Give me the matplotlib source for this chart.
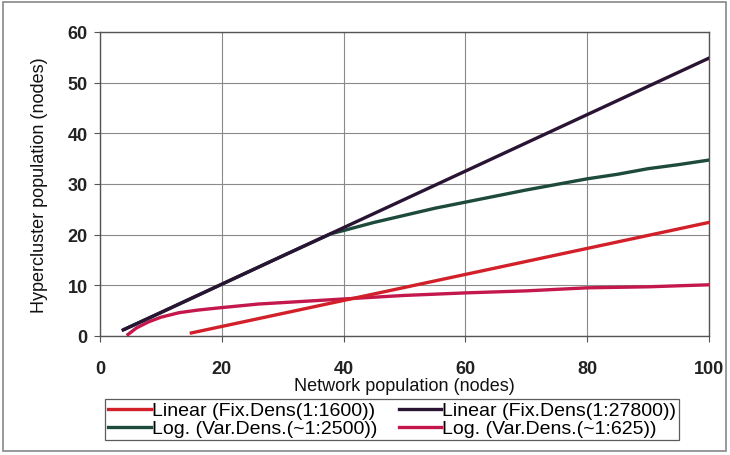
import matplotlib
matplotlib.use("Agg")
import matplotlib.pyplot as plt
from matplotlib.patches import Rectangle

plt.rcParams['font.family'] = ['Liberation Sans', 'DejaVu Sans']

# Linear (Fix.Dens(1:1600))
lin1600_x = [15, 100]
lin1600_y = [0.6, 22.4]

# Linear (Fix.Dens(1:27800))
lin27800_x = [3.8, 100]
lin27800_y = [1.2, 54.8]

# Log. (Var.Dens.(~1:2500)) - follows the 1:27800 line until ~38 nodes
log2500_x = [4, 10, 20, 30, 38, 40, 45, 50, 55, 60, 65, 70, 75, 80, 85, 90, 95, 100]
log2500_y = [1.3, 4.6, 10.2, 15.8, 20.2, 20.8, 22.4, 23.8, 25.2, 26.4, 27.6, 28.8, 29.9, 31.0, 31.9, 33.0, 33.8, 34.7]

# Log. (Var.Dens.(~1:625))
log625_x = [4.6, 6, 8, 10, 13, 16, 20, 26, 33, 40, 50, 60, 70, 80, 90, 100]
log625_y = [0.3, 1.6, 2.8, 3.7, 4.6, 5.1, 5.6, 6.3, 6.8, 7.3, 8.0, 8.5, 8.9, 9.5, 9.7, 10.1]

fig = plt.figure(figsize=(7.3, 4.56), dpi=100)
ax = fig.add_axes([0.137, 0.261, 0.834, 0.667])

lw = 2.4
l_log2500, = ax.plot(log2500_x, log2500_y, color='#1e4a3c', lw=lw, zorder=3,
                     label='Log. (Var.Dens.(~1:2500))')
l_lin27800, = ax.plot(lin27800_x, lin27800_y, color='#2a1434', lw=lw, zorder=4,
                      label='Linear (Fix.Dens(1:27800))')
l_log625, = ax.plot(log625_x, log625_y, color='#c4184c', lw=lw, zorder=3,
                    label='Log. (Var.Dens.(~1:625))')
l_lin1600, = ax.plot(lin1600_x, lin1600_y, color='#d2202a', lw=lw, zorder=4,
                     label='Linear (Fix.Dens(1:1600))')

ax.set_xlim(0, 100)
ax.set_ylim(0, 60)
ax.set_xticks([0, 20, 40, 60, 80, 100])
ax.set_yticks([0, 10, 20, 30, 40, 50, 60])
ax.grid(True, color='#8a8a8a', lw=0.8)
ax.set_axisbelow(True)
for s in ax.spines.values():
    s.set_color('#555555')
    s.set_linewidth(1.0)
ax.tick_params(axis='both', direction='out', length=4, color='#555555',
               labelsize=13, pad=5)
ax.tick_params(axis='x', pad=13)
for t in ax.get_xticklabels() + ax.get_yticklabels():
    t.set_fontweight('bold')
    t.set_color('#222222')

ax.set_xlabel('Network population (nodes)', fontsize=13, labelpad=0, color='#111111')
ax.set_ylabel('Hypercluster population (nodes)', fontsize=13, labelpad=14, color='#111111')

handles = [l_lin1600, l_log2500, l_lin27800, l_log625]
leg = fig.legend(handles=handles, labels=[h.get_label() for h in handles], ncol=2,
                 loc='upper left', bbox_to_anchor=(0.144, 0.123),
                 fontsize=14, frameon=True, fancybox=False,
                 handlelength=2.2, handletextpad=0.05, borderpad=0.15,
                 labelspacing=0.02, columnspacing=1.1, borderaxespad=0)
leg.get_frame().set_edgecolor('#333333')
leg.get_frame().set_linewidth(0.9)

fig.patches.append(Rectangle((0.004, 0.008), 0.99, 0.985, transform=fig.transFigure,
                             fill=False, edgecolor='#888888', lw=1.2))

fig.savefig('out.png', dpi=100)
